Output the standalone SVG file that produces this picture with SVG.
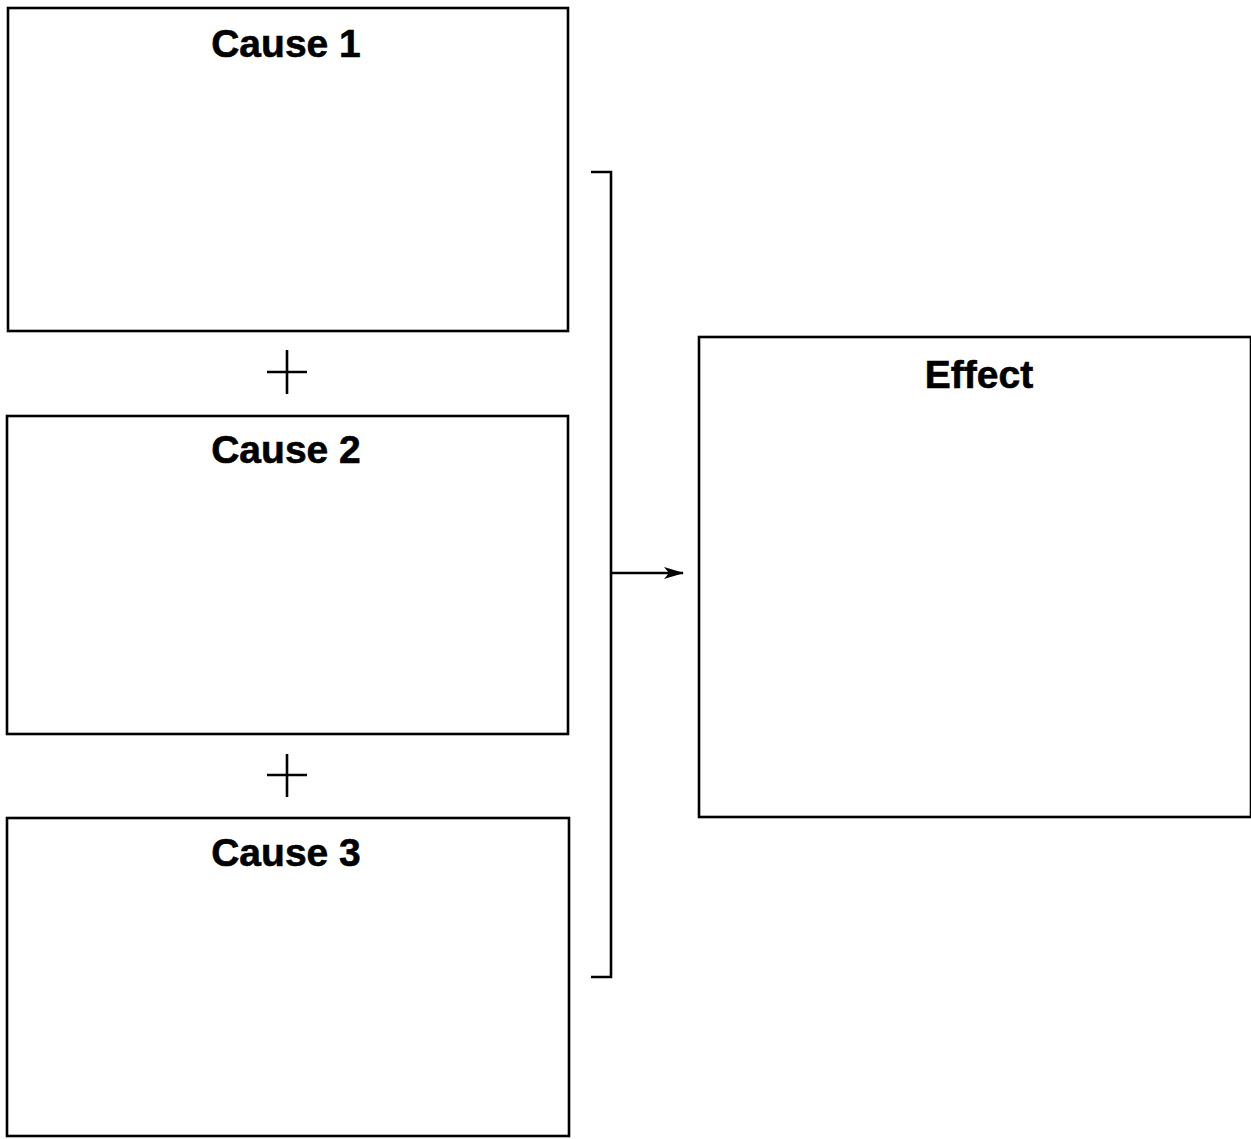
<svg xmlns="http://www.w3.org/2000/svg" width="1251" height="1139" viewBox="0 0 1251 1139">
<style>
.box{fill:#fff;stroke:#000;stroke-width:2.6}
.lbl{font-family:"Liberation Sans",Arial,sans-serif;font-weight:bold;font-size:39px;text-anchor:middle;fill:#000;stroke:#000;stroke-width:0.6}
.ln{fill:none;stroke:#000;stroke-width:2.6}
</style>
<defs>
<marker id="ah" markerWidth="20" markerHeight="12" refX="19" refY="6" orient="auto" markerUnits="userSpaceOnUse" viewBox="0 0 20 12">
<path d="M0,0 L20,6 L0,12 L5,6 Z" fill="#000"/>
</marker>
</defs>
<rect width="1251" height="1139" fill="#fff"/>
<g id="cause1">
<rect class="box" x="8" y="8" width="560" height="323"/>
<text class="lbl" x="286" y="57">Cause 1</text>
</g>
<g id="plus1">
<path class="ln" d="M287,350 V394 M267,372 H307"/>
</g>
<g id="cause2">
<rect class="box" x="7" y="416" width="561" height="318"/>
<text class="lbl" x="286" y="463">Cause 2</text>
</g>
<g id="plus2">
<path class="ln" d="M287,754 V797 M267,775 H307"/>
</g>
<g id="cause3">
<rect class="box" x="7" y="818" width="562" height="318"/>
<text class="lbl" x="286" y="866">Cause 3</text>
</g>
<g id="effect">
<rect class="box" x="699" y="337" width="552" height="480"/>
<text class="lbl" x="979" y="388">Effect</text>
</g>
<g id="connectors">
<path class="ln" d="M591,172 H611 V977 H591"/>
<path class="ln" d="M611,573 H683" marker-end="url(#ah)"/>
</g>
</svg>
